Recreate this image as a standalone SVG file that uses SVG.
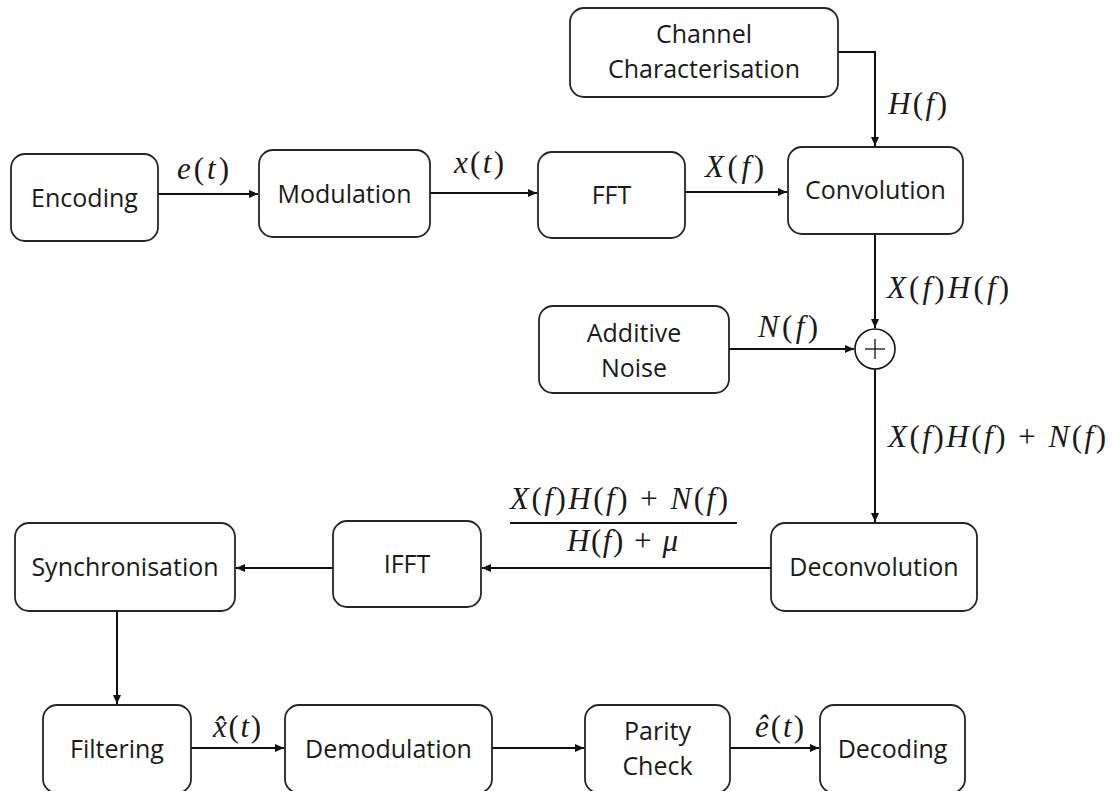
<svg xmlns="http://www.w3.org/2000/svg" width="1115" height="791" viewBox="0 0 1115 791">
<style>
.box{fill:#fff;stroke:#262626;stroke-width:1.8}
.lbl{font-family:"Open Sans","Liberation Sans",sans-serif;font-size:25px;fill:#1a1a1a;text-anchor:middle}
.m{font-family:"Liberation Serif","DejaVu Serif",serif;font-size:31px;fill:#1a1a1a}
.i{font-style:italic}
.c{fill:none;stroke:#111;stroke-width:2}
</style>
<defs>
<marker id="ah" markerWidth="10" markerHeight="10" refX="9" refY="4" orient="auto" markerUnits="userSpaceOnUse">
<path d="M0,0 L9,4 L0,8 z" fill="#111"/>
</marker>
</defs>
<rect width="1115" height="791" fill="#fff"/>
<g id="connectors">
<line class="c" x1="158" y1="194" x2="258" y2="194" marker-end="url(#ah)"/>
<line class="c" x1="430" y1="193" x2="537" y2="193" marker-end="url(#ah)"/>
<line class="c" x1="685" y1="192" x2="787" y2="192" marker-end="url(#ah)"/>
<polyline class="c" points="838,52 875,52 875,146" marker-end="url(#ah)"/>
<line class="c" x1="875" y1="234" x2="875" y2="328" marker-end="url(#ah)"/>
<line class="c" x1="729" y1="349" x2="854" y2="349" marker-end="url(#ah)"/>
<line class="c" x1="875" y1="369" x2="875" y2="522" marker-end="url(#ah)"/>
<line class="c" x1="771" y1="568" x2="482" y2="568" marker-end="url(#ah)"/>
<line class="c" x1="333" y1="568" x2="236" y2="568" marker-end="url(#ah)"/>
<line class="c" x1="117" y1="611" x2="117" y2="704" marker-end="url(#ah)"/>
<line class="c" x1="191" y1="748" x2="284" y2="748" marker-end="url(#ah)"/>
<line class="c" x1="492" y1="748" x2="584" y2="748" marker-end="url(#ah)"/>
<line class="c" x1="730" y1="748" x2="819" y2="748" marker-end="url(#ah)"/>
<line x1="510" y1="523" x2="737" y2="523" stroke="#111" stroke-width="2"/>
</g>
<g id="labels">
<text class="m" x="177" y="179" textLength="52"><tspan class="i">e</tspan>(<tspan class="i">t</tspan>)</text>
<text class="m" x="454" y="173" textLength="50"><tspan class="i">x</tspan>(<tspan class="i">t</tspan>)</text>
<text class="m" x="705" y="177" textLength="59"><tspan class="i">X</tspan>(<tspan class="i">f</tspan>)</text>
<text class="m" x="888" y="114" textLength="59"><tspan class="i">H</tspan>(<tspan class="i">f</tspan>)</text>
<text class="m" x="887" y="298" textLength="122"><tspan class="i">X</tspan>(<tspan class="i">f</tspan>)<tspan class="i">H</tspan>(<tspan class="i">f</tspan>)</text>
<text class="m" x="758" y="337" textLength="60"><tspan class="i">N</tspan>(<tspan class="i">f</tspan>)</text>
<text class="m" x="888" y="447" textLength="218"><tspan class="i">X</tspan>(<tspan class="i">f</tspan>)<tspan class="i">H</tspan>(<tspan class="i">f</tspan>) + <tspan class="i">N</tspan>(<tspan class="i">f</tspan>)</text>
<text class="m" x="510" y="509" textLength="218"><tspan class="i">X</tspan>(<tspan class="i">f</tspan>)<tspan class="i">H</tspan>(<tspan class="i">f</tspan>) + <tspan class="i">N</tspan>(<tspan class="i">f</tspan>)</text>
<text class="m" x="567" y="551" textLength="111"><tspan class="i">H</tspan>(<tspan class="i">f</tspan>) + <tspan class="i">μ</tspan></text>
<text class="m" x="213" y="737" textLength="48"><tspan class="i">x̂</tspan>(<tspan class="i">t</tspan>)</text>
<text class="m" x="755" y="737" textLength="49"><tspan class="i">ê</tspan>(<tspan class="i">t</tspan>)</text>
</g>
<g id="channel"><rect class="box" x="570" y="8" width="268" height="89" rx="14"/><text class="lbl" x="704" y="43">Channel</text><text class="lbl" x="704" y="78">Characterisation</text></g>
<g id="encoding"><rect class="box" x="11" y="154" width="147" height="87" rx="14"/><text class="lbl" x="84.5" y="207">Encoding</text></g>
<g id="modulation"><rect class="box" x="259" y="150" width="171" height="87" rx="14"/><text class="lbl" x="344.5" y="203">Modulation</text></g>
<g id="fft"><rect class="box" x="538" y="152" width="147" height="86" rx="14"/><text class="lbl" x="611.5" y="204">FFT</text></g>
<g id="convolution"><rect class="box" x="788" y="147" width="175" height="87" rx="14"/><text class="lbl" x="875.5" y="199">Convolution</text></g>
<g id="noise"><rect class="box" x="539" y="306" width="190" height="87" rx="14"/><text class="lbl" x="634" y="342">Additive</text><text class="lbl" x="634" y="377">Noise</text></g>
<g id="sum"><circle cx="875" cy="349" r="20" fill="#fff" stroke="#111" stroke-width="1.6"/><line x1="865" y1="349" x2="885" y2="349" stroke="#111" stroke-width="1.3"/><line x1="875" y1="339" x2="875" y2="359" stroke="#111" stroke-width="1.3"/></g>
<g id="deconvolution"><rect class="box" x="771" y="523" width="206" height="88" rx="14"/><text class="lbl" x="874" y="576">Deconvolution</text></g>
<g id="ifft"><rect class="box" x="333" y="521" width="148" height="86" rx="14"/><text class="lbl" x="407" y="573">IFFT</text></g>
<g id="synchronisation"><rect class="box" x="15" y="523" width="220" height="88" rx="14"/><text class="lbl" x="125" y="576">Synchronisation</text></g>
<g id="filtering"><rect class="box" x="43" y="705" width="148" height="88" rx="14"/><text class="lbl" x="117" y="758">Filtering</text></g>
<g id="demodulation"><rect class="box" x="285" y="705" width="207" height="88" rx="14"/><text class="lbl" x="388.5" y="758">Demodulation</text></g>
<g id="parity"><rect class="box" x="585" y="705" width="145" height="88" rx="14"/><text class="lbl" x="657.5" y="740">Parity</text><text class="lbl" x="657.5" y="775">Check</text></g>
<g id="decoding"><rect class="box" x="820" y="705" width="145" height="88" rx="14"/><text class="lbl" x="892.5" y="758">Decoding</text></g>
</svg>
